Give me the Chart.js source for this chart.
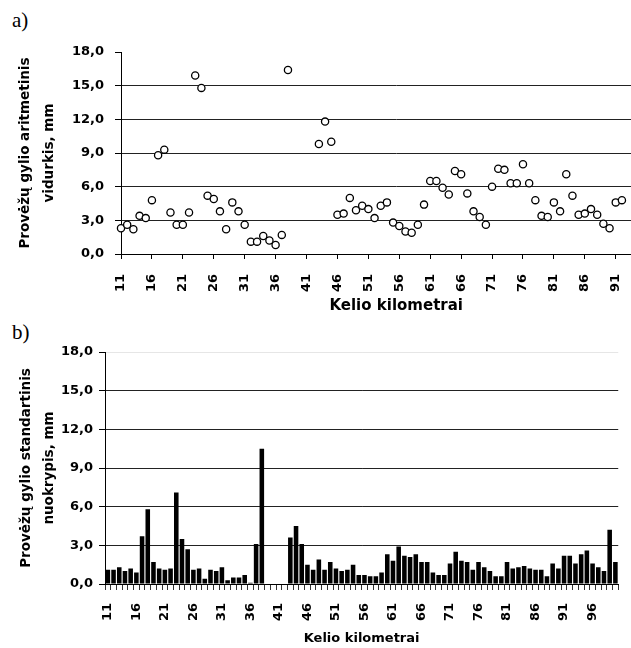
<!DOCTYPE html>
<html>
<head>
<meta charset="utf-8">
<script src="https://cdn.jsdelivr.net/npm/chart.js@4.4.0/dist/chart.umd.min.js"></script>
<style>
html, body { margin:0; padding:0; background:#fff; overflow:hidden; }
body { width:631px; height:648px; position:relative; }
.tag { position:absolute; font-family:"Liberation Serif","Times New Roman",serif; font-size:21px; color:#000; }
#chartA { position:absolute; left:0; top:0; }
#chartB { position:absolute; left:0; top:322px; }
</style>
</head>
<body>
<div class="tag" style="left:12px;top:8px">a)</div>
<div class="tag" style="left:12px;top:320px">b)</div>
<canvas id="chartA" width="702" height="318"></canvas>
<canvas id="chartB" width="644" height="326"></canvas>
<script>
// road kilometres (categories)
var kms = ['11','12','13','14','15','16','17','18','19','20',
  '21','22','23','24','25','26','27','28','29','30',
  '31','32','33','34','35','36','37','38','39','40',
  '41','42','43','44','45','46','47','48','49','50',
  '51','52','53','54','55','56','57','58','59','60',
  '61','62','63','64','65','66','67','68','69','70',
  '71','72','73','74','75','76','77','78','79','80',
  '81','82','83','84','85','86','87','88','89','90',
  '91','92','93','94','95','96','97','98','99','100']

// labels that are written under the axis
var shownKms = ['11','16','21','26','31','36','41','46','51','56','61','66','71','76','81','86','91','96']

// a) mean rut depth, mm (km 11..92, rest cut off in the picture)
var meanDepth = [2.3, 2.6, 2.2, 3.4, 3.2, 4.8, 8.8, 9.3, 3.7, 2.6,
  2.6, 3.7, 15.9, 14.8, 5.2, 4.9, 3.8, 2.2, 4.6, 3.8,
  2.6, 1.1, 1.1, 1.6, 1.2, 0.8, 1.7, 16.4, null, null,
  null, null, 9.8, 11.8, 10.0, 3.5, 3.6, 5.0, 3.9, 4.3,
  4.0, 3.2, 4.3, 4.6, 2.8, 2.5, 2.0, 1.9, 2.6, 4.4,
  6.5, 6.5, 5.9, 5.3, 7.4, 7.1, 5.4, 3.8, 3.3, 2.6,
  6.0, 7.6, 7.5, 6.3, 6.3, 8.0, 6.3, 4.8, 3.4, 3.3,
  4.6, 3.8, 7.1, 5.2, 3.5, 3.6, 4.0, 3.5, 2.7, 2.3,
  4.6, 4.8]

// b) standard deviation of rut depth, mm (km 11..100)
var stdDepth = [1.1, 1.1, 1.3, 1.0, 1.2, 0.9, 3.7, 5.8, 1.7, 1.2,
  1.1, 1.2, 7.1, 3.5, 2.7, 1.1, 1.2, 0.4, 1.1, 1.0,
  1.3, 0.3, 0.5, 0.5, 0.7, 0.1, 3.1, 10.5, null, null,
  null, null, 3.6, 4.5, 3.1, 1.5, 1.1, 1.9, 1.1, 1.7,
  1.2, 1.0, 1.1, 1.5, 0.7, 0.7, 0.6, 0.6, 0.9, 2.3,
  1.8, 2.9, 2.2, 2.1, 2.3, 1.7, 1.7, 0.9, 0.7, 0.7,
  1.6, 2.5, 1.8, 1.7, 1.1, 1.7, 1.3, 1.0, 0.6, 0.6,
  1.7, 1.2, 1.3, 1.4, 1.2, 1.1, 1.1, 0.6, 1.6, 1.2,
  2.2, 2.2, 1.6, 2.3, 2.6, 1.6, 1.3, 1.0, 4.2, 1.7]

var yMin = 0, yMax = 18, yStep = 3
var font = 'DejaVu Sans'

function commaLabel(v){
  return v.toFixed(1).replace('.', ',')
}

function kmLabel(value, index){
  return shownKms.indexOf(kms[index]) >= 0 ? kms[index] : ''
}

function yScale(titleLines, topColor, pad){
  return {
    min: yMin, max: yMax,
    ticks: { stepSize: yStep, padding: pad, color: '#000', font: {family: font, size: 13, weight: 'bold'}, callback: commaLabel },
    grid: { color: function(ctx){ return ctx.tick && ctx.tick.value === yMax ? topColor : '#222' }, tickColor: '#000', tickLength: 6 },
    border: { color: '#000' },
    title: { display: true, text: titleLines, color: '#000', padding: {top: 4, bottom: 0},
      font: {family: font, size: 13.5, weight: 'bold', lineHeight: 1.75} }
  }
}

function showMeans(canvas){
  var y = yScale(['Provėžų gylio aritmetinis', 'vidurkis, mm'], 'rgba(0,0,0,0)', 11)
  y.afterFit = function(s){ s.width = 111 }
  new Chart(canvas.getContext('2d'), {
    type: 'line',
    data: {
      labels: kms,
      datasets: [{
        data: meanDepth,
        showLine: false,
        pointStyle: 'circle',
        pointRadius: 3.6,
        pointBorderWidth: 1.3,
        pointBorderColor: '#000',
        pointBackgroundColor: '#fff'
      }]
    },
    options: {
      responsive: false, animation: false,
      layout: { padding: {left: 10, top: 52, right: 0, bottom: 0} },
      plugins: { legend: {display: false}, tooltip: {enabled: false} },
      scales: {
        x: {
          offset: false,
          grid: { drawOnChartArea: false, tickLength: 5,
            color: function(ctx){ return shownKms.indexOf(kms[ctx.index]) >= 0 ? '#000' : 'rgba(0,0,0,0)' } },
          border: { color: '#000' },
          ticks: { autoSkip: false, minRotation: 90, maxRotation: 90, padding: 15, color: '#000',
            font: {family: font, size: 13, weight: 'bold'}, callback: kmLabel },
          title: { display: true, text: 'Kelio kilometrai', color: '#000', padding: {top: 4, bottom: 3},
            font: {family: font, size: 15, weight: 'bold'} },
          afterFit: function(s){ s.height = 64 }
        },
        y: y
      }
    }
  })
}

function showStd(canvas){
  var y = yScale(['Provėžų gylio standartinis', 'nuokrypis, mm'], '#e6e6e6', 6)
  y.title.font.lineHeight = 1.7
  y.afterFit = function(s){ s.width = 94 }
  new Chart(canvas.getContext('2d'), {
    type: 'bar',
    data: {
      labels: kms,
      datasets: [{
        data: stdDepth,
        backgroundColor: '#000',
        categoryPercentage: 1.0,
        barPercentage: 0.8
      }]
    },
    options: {
      responsive: false, animation: false,
      layout: { padding: {left: 11, top: 30, right: 3, bottom: 0} },
      plugins: { legend: {display: false}, tooltip: {enabled: false} },
      scales: {
        x: {
          grid: { drawOnChartArea: false, tickLength: 6, color: '#333' },
          border: { color: '#000' },
          ticks: { autoSkip: false, minRotation: 90, maxRotation: 90, padding: 13, color: '#000',
            font: {family: font, size: 13, weight: 'bold'}, callback: kmLabel },
          title: { display: true, text: 'Kelio kilometrai', color: '#000', padding: {top: 4, bottom: 2},
            font: {family: font, size: 13, weight: 'bold'} },
          afterFit: function(s){ s.height = 64 }
        },
        y: y
      }
    }
  })
}

showMeans(document.getElementById('chartA'))
showStd(document.getElementById('chartB'))
</script>
</body>
</html>
